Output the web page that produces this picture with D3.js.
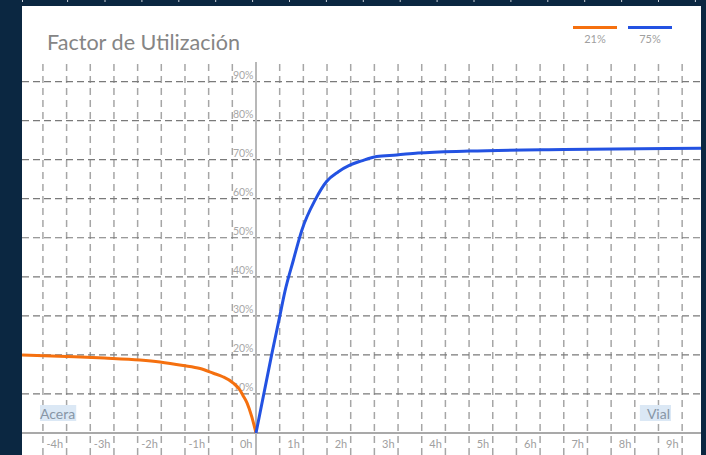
<!DOCTYPE html>
<html><head><meta charset="utf-8">
<script src="https://cdn.jsdelivr.net/npm/d3@7"></script>
<style>
html,body{margin:0;padding:0;background:#0b2741;}
svg{display:block;}
text{font-family:Lato,"Open Sans",sans-serif;}
</style></head>
<body>
<svg id="c" width="706" height="455"></svg>
<script>
// ---- data ----
const title = "Factor de Utilización";
const seriesNames = ["21%", "75%"];
const seriesColors = ["#f5700f", "#2352e2"];
const orangeHours  = [-4.94, -4.0, -3.2, -2.45, -2.03, -1.54, -1.18, -0.9, -0.7, -0.48, -0.34, -0.27, -0.19, -0.09, 0];
const orangeValues = [20.0, 19.6, 19.2, 18.7, 18.2, 17.3, 16.5, 15.3, 14.4, 12.8, 11.0, 9.5, 7.7, 4.2, 0];
const blueHours  = [0, 0.33, 0.5, 0.61, 0.79, 0.91, 0.97, 1.25, 1.49, 1.74, 1.98, 2.23, 2.55, 2.97, 3.42, 4.5, 6.5, 9.4];
const blueValues = [0, 20, 29.8, 36.2, 44.3, 49.6, 52, 59.7, 64.4, 66.9, 68.6, 69.7, 70.8, 71.2, 71.7, 72.2, 72.6, 72.9];
const xTickHours = [-4, -3, -2, -1, 0, 1, 2, 3, 4, 5, 6, 7, 8, 9];
const xTickLabels = ["-4h","-3h","-2h","-1h","0h","1h","2h","3h","4h","5h","6h","7h","8h","9h"];
const yTickValues = [10, 20, 30, 40, 50, 60, 70, 80, 90];
const yTickLabels = ["10%","20%","30%","40%","50%","60%","70%","80%","90%"];
const zoneLabels = ["Acera", "Vial"];

// ---- layout ----
const panel = {x0: 22, x1: 701, y0: 6, y1: 455};
const svg = d3.select("#c");
const x = d3.scaleLinear().domain([-5, 10]).range([256 - 5*47.35, 256 + 10*47.35]);
const y = d3.scaleLinear().domain([0, 100]).range([433, 42.5]);

// background panel
svg.append("rect").attr("x", panel.x0).attr("y", panel.y0)
  .attr("width", panel.x1 - panel.x0).attr("height", panel.y1 - panel.y0).attr("fill", "#fff");

// top decorative marks
svg.append("g").selectAll("line").data([22.5, 67.6].concat(d3.range(105, 700, 36.9))).join("line")
  .attr("x1", d => d).attr("x2", d => d).attr("y1", 0).attr("y2", 2)
  .attr("stroke", "#c8ced6").attr("stroke-width", 1);

const defs = svg.append("defs");
defs.append("clipPath").attr("id", "clip").append("rect")
  .attr("x", panel.x0).attr("y", panel.y0).attr("width", panel.x1 - panel.x0).attr("height", panel.y1 - panel.y0);

const g = svg.append("g").attr("clip-path", "url(#clip)");

// vertical grid (every half hour)
const vGrid = d3.range(-4.5, 9.51, 0.5).filter(h => h !== 0);
g.append("g").selectAll("line").data(vGrid).join("line")
  .attr("x1", d => x(d)).attr("x2", d => x(d))
  .attr("y1", y(94.5)).attr("y2", panel.y1)
  .attr("stroke", "#a6a6a6").attr("stroke-width", 1.5).attr("stroke-dasharray", "7,5");

// horizontal grid
g.append("g").selectAll("line").data(yTickValues).join("line")
  .attr("x1", panel.x0).attr("x2", panel.x1)
  .attr("y1", d => y(d)).attr("y2", d => y(d))
  .attr("stroke", "#7a7a7a").attr("stroke-width", 1.2).attr("stroke-dasharray", "7,4");

// zero line
g.append("line").attr("x1", panel.x0).attr("x2", panel.x1).attr("y1", y(0)).attr("y2", y(0))
  .attr("stroke", "#8c8c8c").attr("stroke-width", 1.5);
// y axis line
g.append("line").attr("x1", x(0)).attr("x2", x(0)).attr("y1", 62).attr("y2", panel.y1)
  .attr("stroke", "#b8b8b8").attr("stroke-width", 2);

// y tick labels
g.append("g").selectAll("text").data(yTickValues).join("text")
  .attr("x", x(0) - 2.5).attr("y", d => y(d) - 3)
  .attr("text-anchor", "end").attr("font-size", 10.5).attr("fill", "#a8a8a8")
  .text((d, i) => yTickLabels[i]);

// x tick labels
g.append("g").selectAll("text").data(xTickHours).join("text")
  .attr("x", d => x(d) - 3.5).attr("y", 448)
  .attr("text-anchor", "end").attr("font-size", 11).attr("fill", "#a0a0a0")
  .text((d, i) => xTickLabels[i]);

// zone labels
function zoneLabel(text, xPos, anchor) {
  const zg = g.append("g");
  const rect = zg.append("rect");
  const t = zg.append("text").attr("x", xPos).attr("y", 418.5).attr("text-anchor", anchor)
    .attr("font-size", 14).attr("fill", "#8796a6").text(text);
  const bb = t.node().getBBox();
  const padL = anchor === "end" ? 7 : 0;
  rect.attr("x", bb.x - padL).attr("y", 405)
    .attr("width", bb.width + padL + 1).attr("height", 16).attr("fill", "#dbe8f5");
}
zoneLabel(zoneLabels[0], 40, "start");
zoneLabel(zoneLabels[1], 670, "end");

// lines
const line = d3.line().x(d => x(d[0])).y(d => y(d[1])).curve(d3.curveMonotoneX);
const orange = orangeHours.map((h, i) => [h, orangeValues[i]]);
const blue = blueHours.map((h, i) => [h, blueValues[i]]);
g.append("path").datum(orange).attr("d", line).attr("fill", "none")
  .attr("stroke", seriesColors[0]).attr("stroke-width", 3).attr("stroke-linejoin", "round");
g.append("path").datum(blue).attr("d", line).attr("fill", "none")
  .attr("stroke", seriesColors[1]).attr("stroke-width", 3).attr("stroke-linejoin", "round");

// title
svg.append("text").attr("x", 47).attr("y", 50).attr("font-size", 21).attr("fill", "#858585")
  .attr("textLength", 193).attr("lengthAdjust", "spacingAndGlyphs").text(title);

// legend
const legX = [573, 628];
const lg = svg.append("g");
lg.selectAll("line").data(seriesNames).join("line")
  .attr("x1", (d, i) => legX[i]).attr("x2", (d, i) => legX[i] + 44)
  .attr("y1", 27.5).attr("y2", 27.5).attr("stroke", (d, i) => seriesColors[i]).attr("stroke-width", 3);
lg.selectAll("text").data(seriesNames).join("text")
  .attr("x", (d, i) => legX[i] + 22).attr("y", 43).attr("text-anchor", "middle")
  .attr("font-size", 11).attr("fill", "#a0a0a0").text(d => d);
</script>
</body></html>
